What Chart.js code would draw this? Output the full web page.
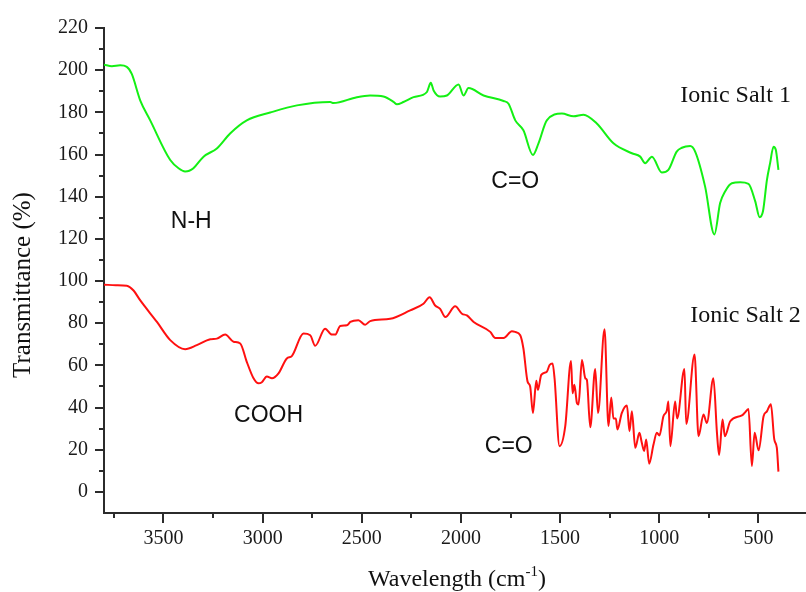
<!DOCTYPE html>
<html>
<head>
<meta charset="utf-8">
<script src="https://cdn.jsdelivr.net/npm/chart.js@4.4.1/dist/chart.umd.min.js"></script>
<style>
  html, body { margin: 0; padding: 0; background: #fff; }
</style>
</head>
<body>
<canvas id="ftir" width="806" height="592"></canvas>
<script>
// Ionic Salt 1 (green trace) - wavenumber (cm-1) and transmittance (%)
const salt1Wn = [3800, 3760, 3718, 3685, 3660, 3617, 3567, 3466, 3424, 3391, 3370, 3349, 3298, 3231, 3164, 3080,
  2962, 2827, 2659, 2643, 2525, 2458, 2391, 2340, 2323, 2290, 2239, 2172, 2152, 2138, 2105, 2071, 2012, 1987,
  1962, 1886, 1785, 1760, 1726, 1685, 1637, 1609, 1567, 1491, 1432, 1382, 1315, 1231, 1138, 1096, 1071, 1037,
  987, 954, 912, 886, 844, 819, 769, 722, 693, 668, 634, 592, 550, 516, 494, 477, 457, 441, 424, 412, 399];
const salt1T = [202.6, 201.9, 202.3, 201.6, 198.2, 185.6, 176.2, 157.4, 153.5, 152.0, 152.3, 153.5, 159.0, 162.9, 170.0, 176.2,
  179.9, 183.3, 184.9, 184.4, 187.2, 188.0, 187.5, 185.0, 183.8, 184.9, 187.2, 189.6, 194.0, 190.4, 187.5, 188.0, 193.2, 188.0,
  191.5, 188.0, 185.4, 184.1, 176.2, 171.5, 159.8, 165.3, 176.2, 179.4, 178.1, 178.9, 174.7, 165.3, 160.6, 159.0, 155.9, 159.0,
  151.5, 152.7, 161.4, 163.2, 164.0, 161.4, 144.9, 122.1, 137.0, 142.5, 146.4, 146.8, 146.1, 137.8, 130.3, 133.1, 148.0, 155.9, 163.7, 162.1, 152.7];

// Ionic Salt 2 (red trace)
const salt2Wn = [3800, 3740, 3685, 3651, 3617, 3533, 3466, 3391, 3332, 3264, 3231, 3189, 3147, 3113, 3080, 3046, 3021,
  3004, 2979, 2953, 2920, 2878, 2853, 2794, 2760, 2735, 2685, 2651, 2634, 2609, 2575, 2558, 2517, 2483, 2458, 2357,
  2256, 2189, 2158, 2130, 2105, 2079, 2029, 1995, 1970, 1936, 1852, 1827, 1785, 1743, 1727, 1701, 1685, 1664, 1651,
  1637, 1620, 1612, 1595, 1567, 1553, 1538, 1528, 1503, 1474, 1445, 1437, 1428, 1415, 1407, 1390, 1373, 1365, 1348,
  1323, 1309, 1276, 1256, 1242, 1231, 1219, 1211, 1189, 1163, 1150, 1138, 1121, 1100, 1088, 1076, 1066, 1051, 1029,
  1012, 999, 979, 962, 954, 944, 920, 910, 873, 864, 822, 802, 777, 760, 727, 709, 698, 681, 669, 642, 583, 570,
  550, 533, 519, 499, 474, 457, 437, 420, 407, 399];
const salt2T = [98.3, 98.0, 97.8, 95.5, 90.8, 80.6, 72.0, 67.7, 69.6, 72.4, 72.7, 74.6, 71.2, 70.4, 61.7, 53.9, 51.5,
  52.0, 54.7, 53.9, 56.2, 63.3, 64.4, 75.1, 74.3, 69.3, 77.4, 74.6, 74.6, 78.7, 79.0, 80.6, 81.4, 79.3, 81.0, 82.1,
  86.1, 89.2, 92.3, 88.4, 86.8, 82.9, 88.0, 84.5, 83.7, 80.6, 75.9, 73.0, 73.0, 76.2, 75.9, 74.3, 68.0, 52.3, 50.0,
  37.4, 52.7, 48.4, 55.5, 57.0, 60.2, 60.9, 53.9, 21.7, 31.2, 62.1, 46.8, 50.8, 42.1, 41.4, 62.5, 53.9, 53.1, 30.7,
  58.3, 37.4, 77.1, 31.2, 44.8, 34.8, 34.8, 29.6, 37.4, 41.0, 28.8, 38.2, 20.9, 28.0, 23.3, 19.4, 24.9, 13.4, 22.5,
  28.0, 26.8, 35.9, 38.5, 42.9, 21.7, 42.9, 34.8, 58.3, 32.2, 65.2, 26.4, 36.7, 32.7, 53.9, 28.0, 17.5, 34.3, 26.4, 33.5, 36.3, 37.4,
  39.3, 12.3, 28.0, 19.7, 35.9, 38.2, 41.6, 24.9, 20.9, 9.6];

// axis ticks
const xMajorTicks = [3500, 3000, 2500, 2000, 1500, 1000, 500];
const xMinorTicks = [3750, 3250, 2750, 2250, 1750, 1250, 750];
const yMajorTicks = [0, 20, 40, 60, 80, 100, 120, 140, 160, 180, 200, 220];
const yMinorTicks = [10, 30, 50, 70, 90, 110, 130, 150, 170, 190, 210];

// peak / series labels, placed in data units
const noteText = ['N-H', 'C=O', 'COOH', 'C=O'];
const noteWn = [3360, 1726, 2970, 1759];
const noteT = [128.1, 147.1, 36.3, 21.3];
const seriesText = ['Ionic Salt 1', 'Ionic Salt 2'];
const seriesWn = [894, 844];
const seriesT = [187.9, 83.6];

const AXIS = '#2b2b2b';
const SERIF = '"Liberation Serif", "Times New Roman", serif';
const SANS = '"Liberation Sans", Arial, sans-serif';

const toPoints = (xs, ys) => xs.map((x, i) => ({ x, y: ys[i] }));

const extras = {
  id: 'extras',
  afterDraw(chart) {
    const { ctx, chartArea, scales: { x, y } } = chart;
    ctx.save();

    // tick marks pointing out of the plot
    ctx.strokeStyle = AXIS;
    ctx.lineWidth = 2;
    ctx.beginPath();
    xMajorTicks.forEach(v => { const px = Math.round(x.getPixelForValue(v)); ctx.moveTo(px, chartArea.bottom); ctx.lineTo(px, chartArea.bottom + 10); });
    xMinorTicks.forEach(v => { const px = Math.round(x.getPixelForValue(v)); ctx.moveTo(px, chartArea.bottom); ctx.lineTo(px, chartArea.bottom + 5); });
    yMajorTicks.forEach(v => { const py = Math.round(y.getPixelForValue(v)); ctx.moveTo(chartArea.left, py); ctx.lineTo(chartArea.left - 9, py); });
    yMinorTicks.forEach(v => { const py = Math.round(y.getPixelForValue(v)); ctx.moveTo(chartArea.left, py); ctx.lineTo(chartArea.left - 5, py); });
    ctx.stroke();

    // peak labels
    ctx.fillStyle = '#111';
    ctx.textAlign = 'center';
    ctx.textBaseline = 'middle';
    ctx.font = '23px ' + SANS;
    noteText.forEach((t, i) => ctx.fillText(t, x.getPixelForValue(noteWn[i]), y.getPixelForValue(noteT[i])));

    // series names
    ctx.textAlign = 'left';
    ctx.font = '24px ' + SERIF;
    seriesText.forEach((t, i) => ctx.fillText(t, x.getPixelForValue(seriesWn[i]), y.getPixelForValue(seriesT[i])));

    // y axis title
    ctx.save();
    ctx.translate(30, 285);
    ctx.rotate(-Math.PI / 2);
    ctx.textAlign = 'center';
    ctx.textBaseline = 'alphabetic';
    ctx.font = '25px ' + SERIF;
    ctx.fillText('Transmittance (%)', 0, 0);
    ctx.restore();

    // x axis title with superscript
    ctx.textBaseline = 'alphabetic';
    ctx.textAlign = 'left';
    const main = 'Wavelength (cm', sup = '-1', tail = ')';
    ctx.font = '24px ' + SERIF;
    const wMain = ctx.measureText(main).width, wTail = ctx.measureText(tail).width;
    ctx.font = '15px ' + SERIF;
    const wSup = ctx.measureText(sup).width;
    let tx = 457 - (wMain + wSup + wTail) / 2;
    const base = 586;
    ctx.font = '24px ' + SERIF;
    ctx.fillText(main, tx, base);
    tx += wMain;
    ctx.font = '15px ' + SERIF;
    ctx.fillText(sup, tx, base - 10);
    tx += wSup;
    ctx.font = '24px ' + SERIF;
    ctx.fillText(tail, tx, base);

    ctx.restore();
  }
};

new Chart(document.getElementById('ftir'), {
  type: 'line',
  data: {
    datasets: [
      { label: 'Ionic Salt 1', data: toPoints(salt1Wn, salt1T), borderColor: '#14f014', borderWidth: 2, pointRadius: 0, cubicInterpolationMode: 'monotone' },
      { label: 'Ionic Salt 2', data: toPoints(salt2Wn, salt2T), borderColor: '#ff1010', borderWidth: 2, pointRadius: 0, cubicInterpolationMode: 'monotone' },
    ],
  },
  options: {
    responsive: false,
    animation: false,
    devicePixelRatio: 1,
    layout: { padding: { top: 24, right: 0, bottom: 0, left: 0 } },
    plugins: { legend: { display: false }, tooltip: { enabled: false } },
    scales: {
      x: {
        type: 'linear',
        reverse: true,
        min: 260,
        max: 3800,
        grid: { display: false, drawTicks: false },
        border: { display: true, color: AXIS, width: 2 },
        afterBuildTicks: s => { s.ticks = xMajorTicks.map(value => ({ value })); },
        afterFit: s => { s.height = 79; },
        ticks: { color: '#1a1a1a', padding: 14, maxRotation: 0, font: { family: SERIF, size: 20 }, callback: v => String(v) },
      },
      y: {
        min: -10,
        max: 220,
        grid: { display: false, drawTicks: false },
        border: { display: true, color: AXIS, width: 2 },
        afterBuildTicks: s => { s.ticks = yMajorTicks.map(value => ({ value })); },
        afterFit: s => { s.width = 104; },
        ticks: { color: '#1a1a1a', padding: 16, font: { family: SERIF, size: 20 }, callback: v => String(v) },
      },
    },
  },
  plugins: [extras],
});
</script>
</body>
</html>
